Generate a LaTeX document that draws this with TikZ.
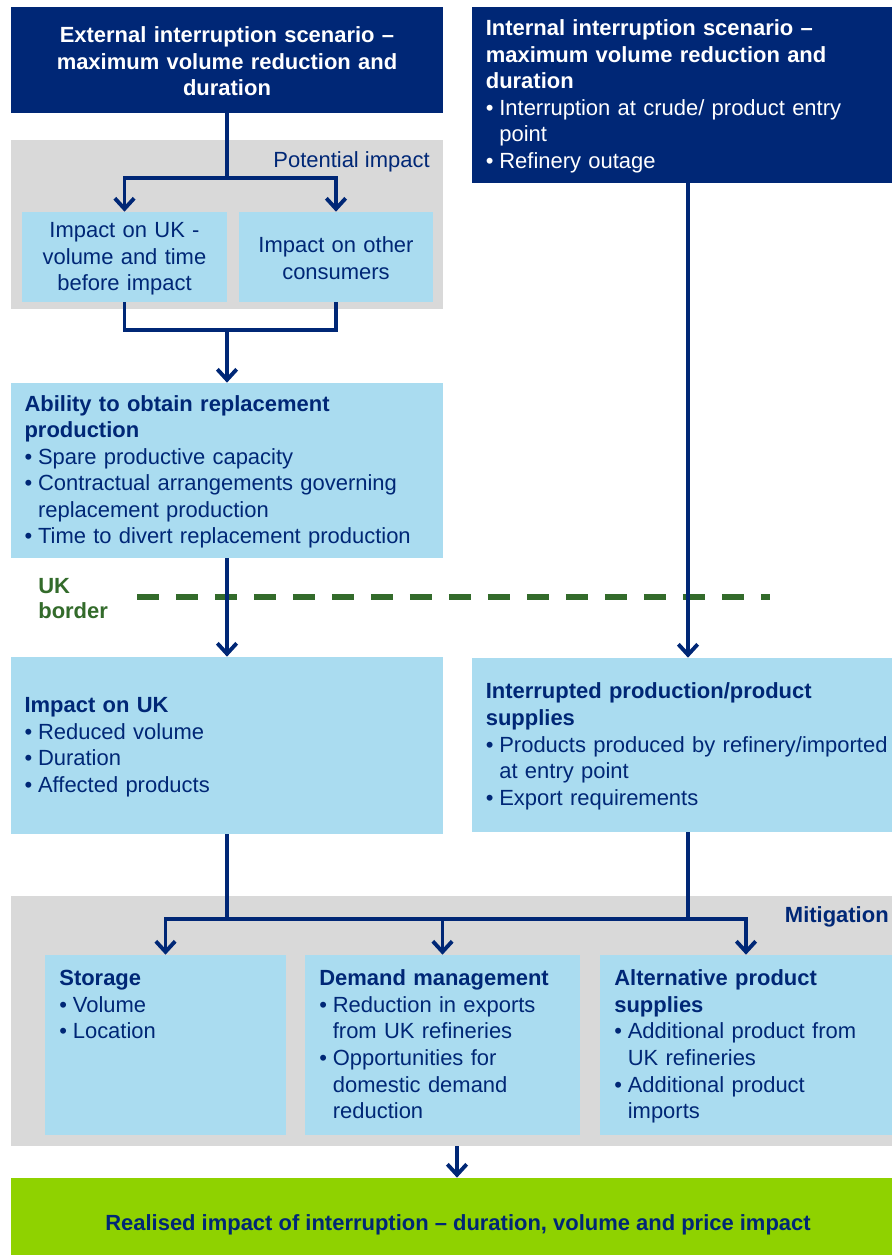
\documentclass[tikz,border=0pt]{standalone}
\usepackage{fontspec}
\setmainfont{Liberation Sans}
\usetikzlibrary{arrows.meta}

\newcommand{\bitem}{\par\hangindent=0.27cm\hangafter=1\noindent\makebox[0.27cm][l]{\textbullet}}

\begin{document}
\begin{tikzpicture}[x=0.02cm, y=-0.02cm]

  % Define Colors
  \definecolor{navy}{RGB}{0,39,118}
  \definecolor{skyblue}{RGB}{170,220,240}
  \definecolor{panelgrey}{RGB}{217,217,217}
  \definecolor{bordergreen}{RGB}{51,107,43}
  \definecolor{limegreen}{RGB}{143,210,0}

  % Node styles
  \tikzstyle{txt}=[font=\fontsize{12.5}{15.1}\selectfont, text=navy, inner sep=0pt]
  \tikzstyle{btxt}=[txt, font=\fontsize{12.5}{15.1}\selectfont\bfseries]
  \tikzstyle{dbox}=[txt, rectangle, fill=navy, text=white, inner xsep=0.27cm]
  \tikzstyle{lbox}=[txt, rectangle, fill=skyblue, inner xsep=0.27cm]
  \tikzstyle{panel}=[rectangle, fill=panelgrey, inner sep=0pt]

  \tikzstyle{conn}=[navy, line width=2.2pt]
  \tikzstyle{arr}=[conn, -{Straight Barb[length=6pt, width=11pt]}]

  \useasboundingbox (0,0) rectangle (892,1255);

  % Panels
  \node[panel, minimum width=8.64cm, minimum height=3.38cm] (potential) at (227,224.5) {};
  \node[panel, minimum width=17.62cm, minimum height=5cm] (mitigation) at (451.5,1021) {};
  \node[txt, anchor=east] (potential label) at (430,162) {Potential impact};
  \node[btxt, anchor=east] (mitigation label) at (889,917) {Mitigation};

  % Scenarios
  \node[dbox, font=\fontsize{12.5}{15.1}\selectfont\bfseries, text width=8.1cm, minimum height=2.12cm, align=center] (ext) at (227,60)
    {\strut External interruption scenario --\\ maximum volume reduction and\\ duration};
  \node[dbox, text width=7.86cm, minimum height=3.52cm, align=left, anchor=west] (int) at (472,95)
    {\strut\textbf{Internal interruption scenario --\newline maximum volume reduction and\newline duration}
     \bitem Interruption at crude/ product entry\newline point
     \bitem Refinery outage\par};

  % Potential impact
  \node[lbox, inner xsep=0.1cm, text width=3.9cm, minimum height=1.8cm, align=center] (uksmall) at (124.5,257)
    {\strut Impact on UK -\\ volume and time\\ before impact};
  \node[lbox, inner xsep=0.1cm, text width=3.68cm, minimum height=1.8cm, align=center] (other) at (336,257)
    {\strut Impact on other\\ consumers};

  % Middle boxes
  \node[lbox, text width=8.1cm, minimum height=3.5cm, align=left] (ability) at (227,470.5)
    {\strut\textbf{Ability to obtain replacement\newline production}
     \bitem Spare productive capacity
     \bitem Contractual arrangements governing\newline replacement production
     \bitem Time to divert replacement production\par};
  \node[lbox, text width=8.1cm, minimum height=3.54cm, align=left] (ukimpact) at (227,745.5)
    {\strut\textbf{Impact on UK}
     \bitem Reduced volume
     \bitem Duration
     \bitem Affected products\par};
  \node[lbox, text width=8.3cm, minimum height=3.48cm, align=left, anchor=west] (interrupted) at (472,745)
    {\strut\textbf{Interrupted production/product\newline supplies}
     \bitem Products produced by refinery/imported\newline at entry point
     \bitem Export requirements\par};

  % UK border
  \draw[bordergreen, line width=0.12cm, dash pattern=on 0.44cm off 0.34cm] (137,597) coordinate (border west) -- (770,597) coordinate (border east);
  \node[btxt, text=bordergreen, anchor=north west, align=left, font=\fontsize{12.5}{14.2}\selectfont\bfseries] (border label) at (38,576) {\strut UK\\ border};

  % Mitigation boxes
  \node[lbox, minimum width=4.82cm, minimum height=3.6cm] (storage) at (165.5,1045) {};
  \node[lbox, minimum width=5.5cm, minimum height=3.6cm] (demand) at (442.5,1045) {};
  \node[lbox, minimum width=5.84cm, minimum height=3.6cm] (alt) at (746,1045) {};

  \node[txt, text width=4.28cm, align=left, anchor=north west] (storage text) at (59,967)
    {\strut\textbf{Storage}
     \bitem Volume
     \bitem Location\par};
  \node[txt, text width=4.96cm, align=left, anchor=north west] (demand text) at (319,967)
    {\strut\textbf{Demand management}
     \bitem Reduction in exports\newline from UK refineries
     \bitem Opportunities for\newline domestic demand\newline reduction\par};
  \node[txt, text width=5.3cm, align=left, anchor=north west] (alt text) at (614,967)
    {\strut\textbf{Alternative product\newline supplies}
     \bitem Additional product from\newline UK refineries
     \bitem Additional product\newline imports\par};

  % Result
  \node[btxt, fill=limegreen, minimum width=17.62cm, minimum height=1.54cm, text height=0.64cm, text depth=0.1cm] (realised) at (451.5,1216.5)
    {\hspace*{0.26cm}Realised impact of interruption -- duration, volume and price impact};

  % Links
  \coordinate (fork) at (227,178);
  \coordinate (join) at (227,330);
  \coordinate (merge) at (227,919);
  \coordinate (int join) at (688,919);

  \draw[conn] (ext.south) -- (fork);
  \draw[arr] (fork) -| (uksmall.north);
  \draw[arr] (fork) -| (other.north);
  \draw[conn] (uksmall.south) |- (join) -| (other.south);
  \draw[arr] (join) -- (ability.north);
  \draw[arr] (ability.south) -- (ukimpact.north);
  \draw[arr] (int.south -| int join) -- (interrupted.north -| int join);

  \draw[conn] (ukimpact.south) -- (merge);
  \draw[conn] (interrupted.south -| int join) -- (int join);
  \draw[conn] (merge) -- (int join);
  \draw[arr] (merge) -| (storage.north);
  \draw[arr] (merge) -| (demand.north);
  \draw[arr] (int join) -| (alt.north);

  \draw[arr] ([xshift=0.11cm]mitigation.south) -- ([xshift=0.11cm]realised.north);

\end{tikzpicture}
\end{document}
